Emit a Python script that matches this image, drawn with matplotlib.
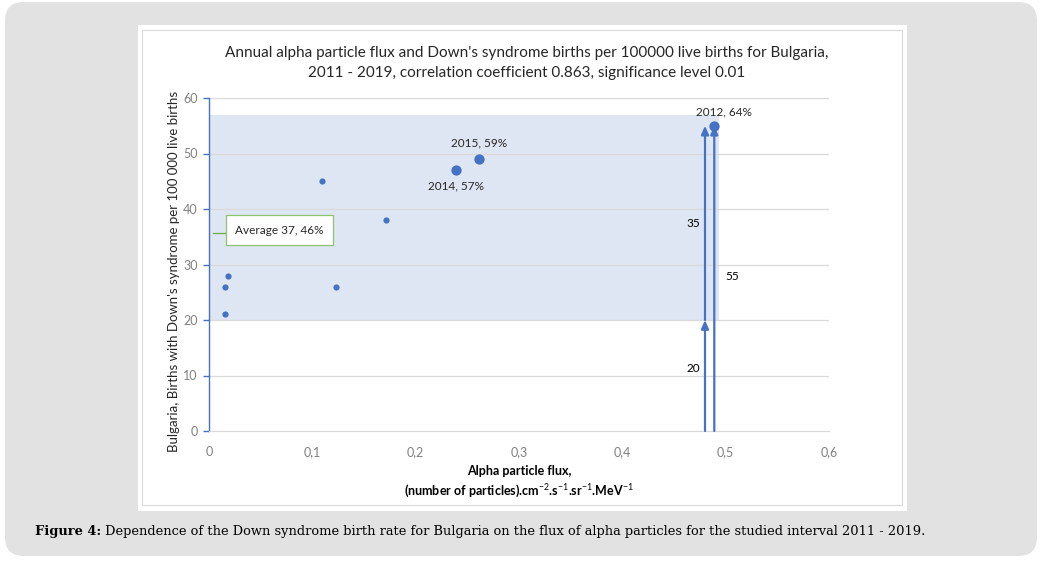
import matplotlib
matplotlib.use("Agg")
import matplotlib.pyplot as plt
from matplotlib.patches import Rectangle, FancyBboxPatch
from matplotlib.ticker import FuncFormatter

# ---------------- data ----------------
small_x = [0.0155, 0.018, 0.0155, 0.1097, 0.1226, 0.1716]
small_y = [26, 28, 21, 45, 26, 38]
big_x = [0.2388, 0.2614, 0.4886]
big_y = [47, 49, 55]
big_labels = ["2014, 57%", "2015, 59%", "2012, 64%"]

band_low, band_high, band_right = 20, 57, 0.494
avg_value, avg_pct = 37, 46

arrow_x = [0.480, 0.480, 0.489]
arrow_from = [0, 20, 0]
arrow_to = [20, 55, 55]
arrow_texts = ["20", "35", "55"]
arrow_text_y = [11.2, 37.3, 27.9]

x_ticks = [0, 0.1, 0.2, 0.3, 0.4, 0.5, 0.6]
y_ticks = [0, 10, 20, 30, 40, 50, 60]

title = ("Annual alpha particle flux and Down's syndrome births per 100000 live births for Bulgaria,\n"
         "2011 - 2019, correlation coefficient 0.863, significance level 0.01")
ylabel = "Bulgaria, Births with Down's syndrome per 100 000 live births"
xlabel = ("Alpha particle flux,\n"
          "(number of particles).cm$^{-2}$.s$^{-1}$.sr$^{-1}$.MeV$^{-1}$")
caption_bold = "Figure 4:"
caption_rest = (" Dependence of the Down syndrome birth rate for Bulgaria on the flux of alpha "
                "particles for the studied interval 2011 - 2019.")

# ---------------- style ----------------
FONT = ["Lato", "DejaVu Sans"]
plt.rcParams["font.family"] = FONT
plt.rcParams["mathtext.fontset"] = "custom"
plt.rcParams["mathtext.rm"] = "Lato"
plt.rcParams["mathtext.bf"] = "Lato:bold"
BLUE = "#4472C4"
GRID = "#D9D9D9"

W, H = 1042, 561
fig = plt.figure(figsize=(W / 100, H / 100), dpi=100)
fig.patch.set_facecolor("white")

def fx(px):
    return px / W

def fy(py):
    return 1 - py / H

# outer grey panel
fig.patches.append(FancyBboxPatch((fx(5), fy(556)), fx(1032), 554 / H,
                                  boxstyle="round,pad=0,rounding_size=0.018",
                                  transform=fig.transFigure, facecolor="#E2E2E2",
                                  edgecolor="none", zorder=0, mutation_aspect=W / H))
# white chart panel
fig.patches.append(Rectangle((fx(138), fy(511)), fx(769), 486 / H,
                             transform=fig.transFigure, facecolor="white",
                             edgecolor="none", zorder=1))
fig.patches.append(Rectangle((fx(142), fy(505)), fx(760), 475 / H,
                             transform=fig.transFigure, facecolor="none",
                             edgecolor="#DADADA", lw=0.8, zorder=2))

ax = fig.add_axes([fx(209), fy(431), fx(620), 333 / H])
ax.set_facecolor("none")
ax.set_zorder(3)
ax.set_xlim(0, 0.6)
ax.set_ylim(0, 60)
ax.set_xticks(x_ticks)
ax.set_yticks(y_ticks)
ax.xaxis.set_major_formatter(FuncFormatter(lambda v, p: ("%g" % round(v, 2)).replace(".", ",")))
ax.yaxis.set_major_formatter(FuncFormatter(lambda v, p: "%d" % v))
ax.tick_params(axis="x", length=0, pad=11, labelsize=9, labelcolor="#808080")
ax.tick_params(axis="y", length=4, width=1, color=BLUE, pad=4, labelsize=9, labelcolor="#808080")
for s in ["top", "right"]:
    ax.spines[s].set_visible(False)
ax.spines["bottom"].set_color(GRID)
ax.spines["left"].set_color(BLUE)
ax.spines["left"].set_linewidth(1.0)
ax.grid(axis="y", color=GRID, lw=0.9)
ax.set_axisbelow(True)

# band
ax.add_patch(Rectangle((0, band_low), band_right, band_high - band_low,
                       facecolor="#DFE6F3", edgecolor="none", zorder=0.5))

# arrows
for x0, a, b in zip(arrow_x, arrow_from, arrow_to):
    ax.annotate("", xy=(x0, b), xytext=(x0, a),
                arrowprops=dict(arrowstyle="-|>,head_length=0.5,head_width=0.22",
                                color=BLUE, lw=1.6, shrinkA=0, shrinkB=0), zorder=3)
ax.text(arrow_x[0] - 0.011, arrow_text_y[0], arrow_texts[0], ha="center", va="center", fontsize=8.5)
ax.text(arrow_x[1] - 0.011, arrow_text_y[1], arrow_texts[1], ha="center", va="center", fontsize=8.5)
ax.text(arrow_x[2] + 0.017, arrow_text_y[2], arrow_texts[2], ha="center", va="center", fontsize=8.5)

# points
ax.scatter(small_x, small_y, s=20, color=BLUE, zorder=4, linewidths=0)
ax.scatter(big_x, big_y, s=55, color=BLUE, zorder=4, linewidths=0)
offsets = [(0, -11), (0, 11.5), (7, 10)]
for x0, y0, lab, off in zip(big_x, big_y, big_labels, offsets):
    ax.annotate(lab, (x0, y0), xytext=off, textcoords="offset points",
                ha="center", va="center", fontsize=8.5, color="#262626")

# average callout
ax.plot([0.0036, 0.0165], [35.7, 35.7], color="#70AD47", lw=0.9, zorder=4)
ax.text(0.0255, 36.2, "Average %d, %d%%" % (avg_value, avg_pct), ha="left", va="center",
        fontsize=8.5, color="#262626", zorder=5,
        bbox=dict(boxstyle="square,pad=0.8", facecolor="white", edgecolor="#8CC36A", lw=0.9))

ax.set_title(title, fontsize=11, color="#262626", pad=15, linespacing=1.6, x=0.513)
ax.set_ylabel(ylabel, fontsize=9.5, color="#262626")
ax.yaxis.set_label_coords(-0.047, 0.48)
ax.set_xlabel(xlabel, fontsize=9, fontweight="bold", color="#000000", labelpad=5, linespacing=1.4)

# caption
fig.canvas.draw()
t1 = fig.text(fx(35), fy(531), caption_bold, family="DejaVu Serif", weight="bold",
              fontsize=9.4, va="center", ha="left", zorder=5)
r = fig.canvas.get_renderer()
bb = t1.get_window_extent(renderer=r)
fig.text(bb.x1 / W, fy(531), caption_rest, family="DejaVu Serif",
         fontsize=9.4, va="center", ha="left", zorder=5)

fig.savefig("out.png", dpi=100, facecolor="white")
